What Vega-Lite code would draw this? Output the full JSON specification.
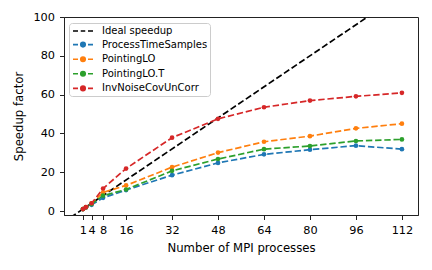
{
  "$schema": "https://vega.github.io/schema/vega-lite/v6.json",
  "width": 354,
  "height": 198,
  "autosize": "none",
  "padding": {"left": 64, "top": 17, "right": 14, "bottom": 55},
  "background": "white",
  "config": {
    "font": "DejaVu Sans",
    "view": {"stroke": "#222222", "strokeWidth": 1},
    "axis": {
      "labelFont": "DejaVu Sans", "labelFontSize": 11.3, "labelColor": "black",
      "titleFont": "DejaVu Sans", "titleFontSize": 11.7, "titleFontWeight": "normal", "titleColor": "black",
      "tickColor": "#222222", "tickSize": 4.5, "domainColor": "#222222", "grid": false, "labelPadding": 5
    }
  },
  "data": {
    "values": [
      {"series": "Ideal speedup", "x": -6, "y": -6},
      {"series": "Ideal speedup", "x": 112, "y": 112},
      {"series": "ProcessTimeSamples", "x": 1, "y": 1},
      {"series": "ProcessTimeSamples", "x": 2, "y": 1.8},
      {"series": "ProcessTimeSamples", "x": 4, "y": 3.2},
      {"series": "ProcessTimeSamples", "x": 8, "y": 6.8},
      {"series": "ProcessTimeSamples", "x": 16, "y": 10.8},
      {"series": "ProcessTimeSamples", "x": 32, "y": 18.5},
      {"series": "ProcessTimeSamples", "x": 48, "y": 24.8},
      {"series": "ProcessTimeSamples", "x": 64, "y": 29.2},
      {"series": "ProcessTimeSamples", "x": 80, "y": 31.6},
      {"series": "ProcessTimeSamples", "x": 96, "y": 33.7},
      {"series": "ProcessTimeSamples", "x": 112, "y": 31.9},
      {"series": "PointingLO", "x": 1, "y": 1},
      {"series": "PointingLO", "x": 2, "y": 2},
      {"series": "PointingLO", "x": 4, "y": 3.9},
      {"series": "PointingLO", "x": 8, "y": 9.6},
      {"series": "PointingLO", "x": 16, "y": 13.2},
      {"series": "PointingLO", "x": 32, "y": 22.6},
      {"series": "PointingLO", "x": 48, "y": 30.1},
      {"series": "PointingLO", "x": 64, "y": 35.7},
      {"series": "PointingLO", "x": 80, "y": 38.6},
      {"series": "PointingLO", "x": 96, "y": 42.6},
      {"series": "PointingLO", "x": 112, "y": 45},
      {"series": "PointingLO.T", "x": 1, "y": 1},
      {"series": "PointingLO.T", "x": 2, "y": 1.9},
      {"series": "PointingLO.T", "x": 4, "y": 3.6},
      {"series": "PointingLO.T", "x": 8, "y": 7.9},
      {"series": "PointingLO.T", "x": 16, "y": 11.1},
      {"series": "PointingLO.T", "x": 32, "y": 20.7},
      {"series": "PointingLO.T", "x": 48, "y": 26.8},
      {"series": "PointingLO.T", "x": 64, "y": 31.9},
      {"series": "PointingLO.T", "x": 80, "y": 33.5},
      {"series": "PointingLO.T", "x": 96, "y": 36.1},
      {"series": "PointingLO.T", "x": 112, "y": 36.9},
      {"series": "InvNoiseCovUnCorr", "x": 1, "y": 1},
      {"series": "InvNoiseCovUnCorr", "x": 2, "y": 2},
      {"series": "InvNoiseCovUnCorr", "x": 4, "y": 4},
      {"series": "InvNoiseCovUnCorr", "x": 8, "y": 11.6},
      {"series": "InvNoiseCovUnCorr", "x": 16, "y": 21.9},
      {"series": "InvNoiseCovUnCorr", "x": 32, "y": 37.8},
      {"series": "InvNoiseCovUnCorr", "x": 48, "y": 47.5},
      {"series": "InvNoiseCovUnCorr", "x": 64, "y": 53.5},
      {"series": "InvNoiseCovUnCorr", "x": 80, "y": 56.9},
      {"series": "InvNoiseCovUnCorr", "x": 96, "y": 59.1},
      {"series": "InvNoiseCovUnCorr", "x": 112, "y": 60.9}
    ]
  },
  "encoding": {
    "x": {
      "field": "x", "type": "quantitative",
      "scale": {"domain": [-5.6, 117.6], "nice": false, "zero": false},
      "axis": {"values": [1, 4, 8, 16, 32, 48, 64, 80, 96, 112], "title": "Number of MPI processes", "titlePadding": 7, "labelFlush": false}
    },
    "y": {
      "field": "y", "type": "quantitative",
      "scale": {"domain": [-2.05, 100], "nice": false, "zero": false},
      "axis": {"values": [0, 20, 40, 60, 80, 100], "title": "Speedup factor", "titlePadding": 8.5, "labelFlush": false}
    },
    "color": {
      "field": "series", "type": "nominal",
      "scale": {
        "domain": ["Ideal speedup", "ProcessTimeSamples", "PointingLO", "PointingLO.T", "InvNoiseCovUnCorr"],
        "range": ["black", "#1f77b4", "#ff7f0e", "#2ca02c", "#d62728"]
      },
      "legend": {
        "title": null,
        "orient": "none",
        "legendX": 5,
        "legendY": 6,
        "fillColor": "rgba(255,255,255,0.8)",
        "strokeColor": "#cccccc",
        "cornerRadius": 3,
        "padding": 2,
        "labelFont": "DejaVu Sans",
        "labelFontSize": 10,
        "labelColor": "black",
        "symbolSize": 100,
        "symbolStrokeWidth": 1.6,
        "symbolOpacity": 1,
        "symbolOffset": 6,
        "rowPadding": 2.6,
        "labelOffset": 13,
        "symbolType": "M-2,0L-1,0M-0.45,0L0.45,0M1,0L2,0M0.45,0A0.45,0.45 0 1,1 -0.45,0A0.45,0.45 0 1,1 0.45,0Z",
        "encode": {
          "symbols": {
            "update": {
              "shape": {"signal": "datum.value === 'Ideal speedup' ? 'M-2,0L-1,0M-0.45,0L0.45,0M1,0L2,0' : 'M-2,0L-1,0M-0.45,0L0.45,0M1,0L2,0M0.45,0A0.45,0.45 0 1,1 -0.45,0A0.45,0.45 0 1,1 0.45,0Z'"},
              "fill": {"signal": "datum.value === 'Ideal speedup' ? 'transparent' : scale('color', datum.value)"},
              "stroke": {"signal": "scale('color', datum.value)"},
              "strokeDash": {"value": []}
            }
          }
        }
      }
    }
  },
  "layer": [
    {
      "mark": {"type": "line", "strokeWidth": 1.7, "strokeDash": [6.4, 2.8], "clip": true}
    },
    {
      "transform": [{"filter": "datum.series !== 'Ideal speedup'"}],
      "mark": {"type": "point", "filled": true, "size": 22, "opacity": 1, "clip": true}
    }
  ]
}
